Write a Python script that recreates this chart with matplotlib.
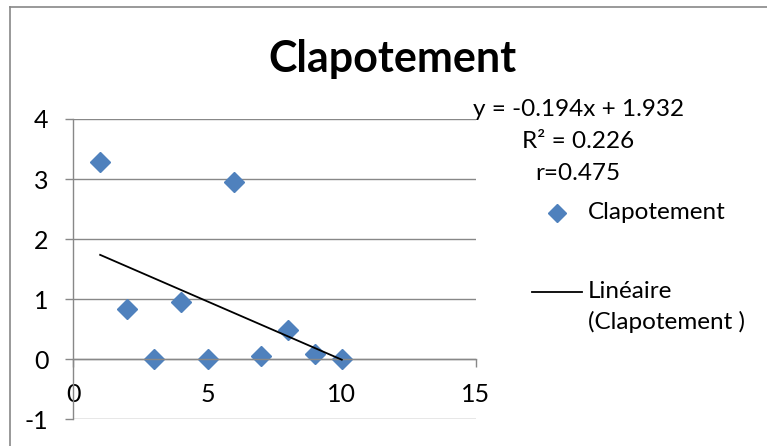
import numpy as np
import matplotlib
matplotlib.use("Agg")
import matplotlib.pyplot as plt
from matplotlib.lines import Line2D

plt.rcParams['font.family'] = ['Lato', 'DejaVu Sans']
plt.rcParams['axes.unicode_minus'] = False

# measured values
x_vals = [1, 2, 3, 4, 5, 6, 7, 8, 9, 10]
y_vals = [3.28, 0.84, 0.0, 0.96, 0.0, 2.95, 0.06, 0.48, 0.08, 0.0]
x_ticks = [0, 5, 10, 15]
y_ticks = [-1, 0, 1, 2, 3, 4]

# linear fit as printed on the chart
slope = -0.194
intercept = 1.932
r2_text = "0.226"
r_text = "0.475"

W, H = 767, 446
GRAY = '#888888'
BLUE = '#4F81BD'
FS = 17.5


def px(x, y):
    """pixel position -> figure fraction"""
    return x / W, 1 - y / H


fig = plt.figure(figsize=(W / 100, H / 100), dpi=100)

# chart frame (top and left edges)
fig.add_artist(Line2D([10 / W, 1], [1 - 7 / H, 1 - 7 / H], color=GRAY, lw=1.2))
fig.add_artist(Line2D([10 / W, 10 / W], [0, 1 - 7 / H], color=GRAY, lw=1.2))

left, top = 73.3, 119
right, bottom = 476, 419.3
ax = fig.add_axes([left / W, 1 - bottom / H, (right - left) / W, (bottom - top) / H])
ax.set_xlim(0, 15)
ax.set_ylim(-1, 4)

ax.spines['top'].set_visible(False)
ax.spines['right'].set_visible(False)
ax.spines['left'].set_color(GRAY)
ax.spines['bottom'].set_color(GRAY)
ax.spines['bottom'].set_position(('data', 0))
ax.spines['left'].set_linewidth(1.0)
ax.spines['bottom'].set_linewidth(1.0)

ax.set_xticks(x_ticks)
ax.set_yticks(y_ticks)
ax.tick_params(axis='x', direction='out', length=6, width=1.0, color=GRAY,
               pad=11, labelsize=18)
ax.tick_params(axis='y', direction='out', length=6, width=1.0, color=GRAY,
               pad=12, labelsize=18)
ax.yaxis.grid(True, color=GRAY, lw=1.0)
ax.set_axisbelow(True)

# data points and trendline
ax.plot(x_vals, y_vals, linestyle='none', marker='D', markersize=10,
        color=BLUE, zorder=2, clip_on=False)
xs = np.array([min(x_vals), max(x_vals)])
ax.plot(xs, slope * xs + intercept, color='black', lw=1.3, zorder=3)

# title
fig.text(*px(392, 59), "Clapotement", ha='center', va='center',
         fontsize=31, fontweight='bold')

# equation block
fig.text(*px(473, 110), "y = %.3fx + %.3f" % (slope, intercept),
         ha='left', va='center', fontsize=FS)
fig.text(*px(522, 142), "R² = " + r2_text, ha='left', va='center', fontsize=FS)
fig.text(*px(535, 173), "r=" + r_text, ha='left', va='center', fontsize=FS)

# legend
fig.add_artist(Line2D([557 / W], [1 - 213 / H], marker='D', markersize=9,
                      color=BLUE, linestyle='none'))
fig.text(*px(588, 213), "Clapotement", ha='left', va='center', fontsize=FS)
fig.add_artist(Line2D([532 / W, 582 / W], [1 - 292 / H, 1 - 292 / H],
                      color='black', lw=1.3))
fig.text(*px(588, 292), "Linéaire", ha='left', va='center', fontsize=FS)
fig.text(*px(588, 322), "(Clapotement )", ha='left', va='center', fontsize=FS)

fig.savefig("out.png", dpi=100)
